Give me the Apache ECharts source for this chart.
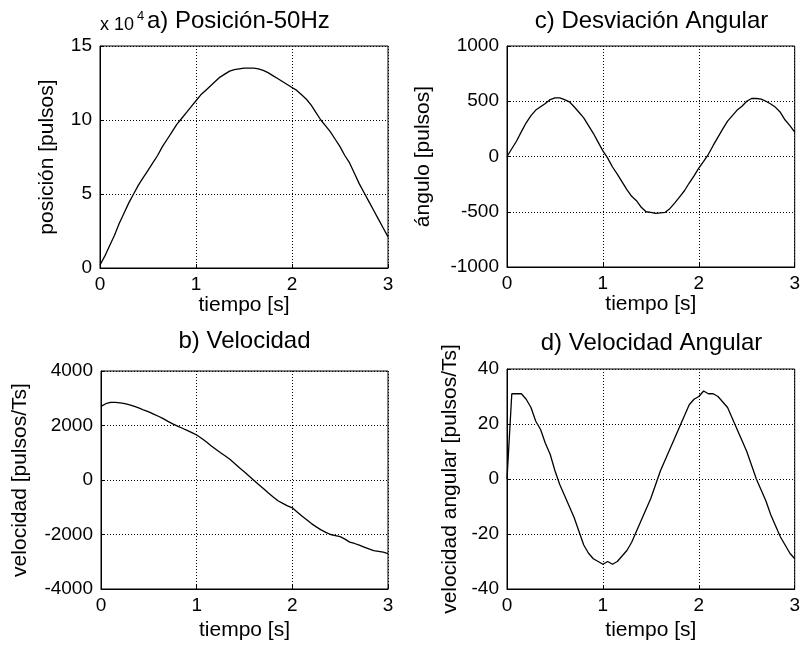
<!DOCTYPE html>
<html>
<head>
<meta charset="utf-8">
<script src="https://cdn.jsdelivr.net/npm/echarts@6/dist/echarts.min.js"></script>
<style>html,body{margin:0;padding:0;background:#fff}#c{width:803px;height:648px}</style>
</head>
<body>
<div id="c"></div>
<script>
// time axis (s)
const tiempo = [0,0.05,0.1,0.15,0.2,0.25,0.3,0.35,0.4,0.45,0.5,0.55,0.6,0.65,0.7,0.75,0.8,0.85,0.9,0.95,
  1,1.05,1.1,1.15,1.2,1.25,1.3,1.35,1.4,1.45,1.5,1.55,1.6,1.65,1.7,1.75,1.8,1.85,1.9,1.95,
  2,2.05,2.1,2.15,2.2,2.25,2.3,2.35,2.4,2.45,2.5,2.55,2.6,2.65,2.7,2.75,2.8,2.85,2.9,2.95,3];
// a) posición (x 10^4 pulsos)
const posicion = [0.2,0.8,1.5,2.2,3.0,3.7,4.4,5.0,5.6,6.1,6.6,7.1,7.6,8.2,8.7,9.2,9.7,10.1,10.5,10.9,
  11.3,11.7,12.0,12.3,12.6,12.9,13.1,13.3,13.4,13.45,13.5,13.5,13.5,13.45,13.35,13.2,13.0,12.8,12.6,12.4,
  12.2,12.0,11.7,11.4,11.0,10.5,10.0,9.6,9.2,8.7,8.2,7.6,7.1,6.4,5.7,5.1,4.5,3.9,3.3,2.7,2.1];
// b) velocidad (pulsos/Ts)
const velocidad = [2700,2800,2850,2850,2830,2800,2760,2700,2640,2560,2500,2420,2340,2250,2150,2060,1980,1900,1820,1740,
  1650,1530,1400,1260,1130,1000,880,750,600,440,290,140,-20,-170,-320,-480,-620,-760,-860,-950,
  -1020,-1170,-1320,-1460,-1600,-1720,-1830,-1920,-2000,-2040,-2080,-2170,-2280,-2330,-2390,-2460,-2530,-2590,-2620,-2650,-2700];
// c) desviación angular (pulsos)
const angulo = [0,70,140,225,305,370,420,450,480,515,530,530,515,495,450,400,350,280,210,130,
  50,-15,-95,-160,-230,-300,-360,-400,-460,-500,-505,-515,-510,-505,-470,-420,-365,-310,-240,-175,
  -105,-45,20,100,175,250,320,370,420,455,500,525,525,520,500,475,445,400,330,280,220];
// d) velocidad angular (pulsos/Ts)
const velAngular = [0,31,31,31,29,26,21,18,13,9,3,-2,-6,-10,-14,-19,-24,-27,-29,-30,
  -31,-30,-31,-30,-28,-26,-23,-19,-15,-11,-7,-2,3,7,11,15,19,23,27,29,
  30,32,31,31,30,28,26,22,18,14,10,5,0,-4,-8,-13,-17,-21,-24,-27,-29];

const xTicks = {min:0, max:3, interval:1};
const yTicksA = {min:0, max:15, interval:5};
const yTicksB = {min:-4000, max:4000, interval:2000};
const yTicksC = {min:-1000, max:1000, interval:500};
const yTicksD = {min:-40, max:40, interval:20};

const FONT = 'Liberation Sans, Arial, sans-serif';
const chart = echarts.init(document.getElementById('c'));

function pairs(xs, ys){ return xs.map((x,i)=>[x, ys[i]]); }
const plain = v => String(v);

const grids = [
  {left:100, top:46, width:288, height:222},
  {left:101, top:371, width:287, height:218},
  {left:507, top:46, width:289, height:221},
  {left:507, top:369, width:289, height:220}
];
const yDefs = [
  {t:yTicksA, name:'posición [pulsos]', gap:42},
  {t:yTicksB, name:'velocidad [pulsos/Ts]', gap:70},
  {t:yTicksC, name:'ángulo [pulsos]', gap:73},
  {t:yTicksD, name:'velocidad angular [pulsos/Ts]', gap:46}
];
const xGaps = [27, 31, 27, 31];
const seriesData = [posicion, velocidad, angulo, velAngular];

const splitLine = {show:true, lineStyle:{color:'#000', type:[1,2], width:1}};
const axisLine = {show:true, onZero:false, lineStyle:{color:'#000', width:1}};
const axisTick = {show:true, inside:true, length:4, lineStyle:{color:'#000'}};

const option = {
  backgroundColor:'#fff',
  animation:false,
  grid: grids.map(g => Object.assign({show:true, borderColor:'#000', borderWidth:1, backgroundColor:'transparent'}, g)),
  xAxis: grids.map((g,i) => ({
    type:'value', gridIndex:i, min:xTicks.min, max:xTicks.max, interval:xTicks.interval,
    name:'tiempo [s]', nameLocation:'middle', nameGap:xGaps[i],
    nameTextStyle:{fontFamily:FONT, fontSize:21, color:'#000'},
    axisLabel:{fontFamily:FONT, fontSize:19, color:'#000', margin:7, formatter:plain},
    axisLine, axisTick, splitLine
  })),
  yAxis: yDefs.map((d,i) => ({
    type:'value', gridIndex:i, min:d.t.min, max:d.t.max, interval:d.t.interval,
    name:d.name, nameLocation:'middle', nameGap:d.gap,
    nameTextStyle:{fontFamily:FONT, fontSize:21, color:'#000'},
    axisLabel:{fontFamily:FONT, fontSize:19, color:'#000', margin:8, formatter:plain},
    axisLine, axisTick, splitLine
  })),
  series: seriesData.map((s,i) => ({
    type:'line', xAxisIndex:i, yAxisIndex:i, data:pairs(tiempo, s),
    showSymbol:false, symbol:'none', lineStyle:{color:'#000', width:1.3}, silent:true
  })),
  graphic: [
    {type:'text', style:{text:'x 10', x:100, y:25, fontFamily:FONT, fontSize:18, fill:'#000', textVerticalAlign:'middle'}},
    {type:'text', style:{text:'4', x:137, y:16, fontFamily:FONT, fontSize:13, fill:'#000', textVerticalAlign:'middle'}},
    {type:'text', style:{text:'a) Posición-50Hz', x:147, y:21, fontFamily:FONT, fontSize:24, fill:'#000', textVerticalAlign:'middle'}},
    {type:'text', style:{text:'c) Desviación Angular', x:651.5, y:21, fontFamily:FONT, fontSize:24, fill:'#000', textAlign:'center', textVerticalAlign:'middle'}},
    {type:'text', style:{text:'b) Velocidad', x:244.5, y:341, fontFamily:FONT, fontSize:24, fill:'#000', textAlign:'center', textVerticalAlign:'middle'}},
    {type:'text', style:{text:'d) Velocidad Angular', x:651.5, y:343, fontFamily:FONT, fontSize:24, fill:'#000', textAlign:'center', textVerticalAlign:'middle'}}
  ]
};
chart.setOption(option);
</script>
</body>
</html>
